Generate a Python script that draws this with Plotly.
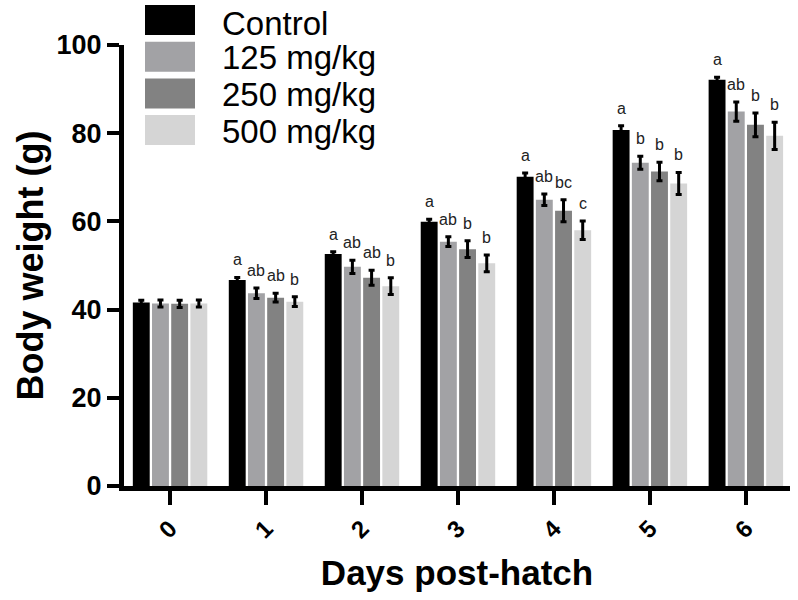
import plotly.graph_objects as go

days = ["0", "1", "2", "3", "4", "5", "6"]
series_names = ["Control", "125 mg/kg", "250 mg/kg", "500 mg/kg"]
colors = ["#000000", "#a2a2a5", "#828282", "#d5d5d5"]

control = [41.6, 46.7, 52.6, 59.9, 70.1, 80.7, 92.1]
mg125 = [41.4, 43.7, 49.7, 55.4, 64.9, 73.3, 84.9]
mg250 = [41.3, 42.7, 47.2, 53.7, 62.4, 71.3, 81.9]
mg500 = [41.4, 41.8, 45.3, 50.5, 58.0, 68.6, 79.4]

err_control = [0.5, 0.6, 0.5, 0.6, 0.9, 1.0, 0.6]
err125 = [0.8, 1.2, 1.5, 1.1, 1.3, 1.5, 2.2]
err250 = [0.8, 1.0, 1.7, 1.9, 2.5, 2.1, 2.7]
err500 = [0.8, 1.1, 1.9, 1.9, 2.1, 2.5, 3.1]

letters_control = ["", "a", "a", "a", "a", "a", "a"]
letters125 = ["", "ab", "ab", "ab", "ab", "b", "ab"]
letters250 = ["", "ab", "ab", "b", "bc", "b", "b"]
letters500 = ["", "b", "b", "b", "c", "b", "b"]

values = [control, mg125, mg250, mg500]
errors = [err_control, err125, err250, err500]
letters = [letters_control, letters125, letters250, letters500]

FONT = "Liberation Sans, Arial, Helvetica"

fig = go.Figure()
for i, name in enumerate(series_names):
    fig.add_trace(go.Bar(
        x=days, y=values[i], name=name,
        marker=dict(color=colors[i], line=dict(width=0)),
        error_y=dict(type="data", array=errors[i], color="#000000",
                     thickness=3, width=3),
        showlegend=False,
        offsetgroup=str(i),
    ))

# significance letters placed above error bars
n = len(series_names)
bargap, groupgap = 0.2, 0.12
group_w = 1 - bargap
for i in range(n):
    for j, d in enumerate(days):
        if not letters[i][j]:
            continue
        xoff = -group_w / 2 + group_w / n * (i + 0.5)
        fig.add_annotation(
            x=j + xoff, y=values[i][j] + errors[i][j],
            xref="x", yref="y", text=letters[i][j], showarrow=False,
            yanchor="bottom", yshift=7,
            font=dict(family=FONT, size=16, color="#222222"),
        )

# custom legend with large swatches (paper coords relative to plot area)
PX0, PX1, PY0, PY1 = 124, 790, 486, 45   # plot-area pixel edges
def px(xp):
    return (xp - PX0) / (PX1 - PX0)
def py(yp):
    return (PY0 - yp) / (PY0 - PY1)

leg_x0, leg_top, row_h, sw_w, sw_h = 145, 5, 36.7, 50, 30
for i, name in enumerate(series_names):
    y0 = leg_top + i * row_h
    fig.add_shape(type="rect", xref="paper", yref="paper",
                  x0=px(leg_x0), x1=px(leg_x0 + sw_w),
                  y0=py(y0 + sw_h), y1=py(y0),
                  fillcolor=colors[i], line=dict(width=0))
    fig.add_annotation(xref="paper", yref="paper",
                       x=px(leg_x0 + sw_w + 25),
                       y=py(y0 + sw_h / 2 + (3 if i == 0 else 1)),
                       xanchor="left", yanchor="middle",
                       text=name, showarrow=False,
                       font=dict(family=FONT, size=33, color="#000000"))

fig.update_layout(
    width=798, height=600,
    margin=dict(l=124, r=8, t=45, b=114),
    paper_bgcolor="white", plot_bgcolor="white",
    barmode="group", bargap=bargap, bargroupgap=groupgap,
    font=dict(family=FONT, color="#000000"),
)
fig.update_xaxes(
    type="category", range=[-0.48, 6.46],
    showline=True, linewidth=5, linecolor="#000000",
    ticks="outside", ticklen=14, tickwidth=4, tickcolor="#000000",
    tickangle=-45, showgrid=False, zeroline=False,
    tickfont=dict(family=FONT, size=24, color="#000000", weight="bold"),
    title=dict(text="<b>Days post-hatch</b>", standoff=20,
               font=dict(family=FONT, size=35, color="#000000")),
)
fig.update_yaxes(
    range=[0, 100], tickvals=[0, 20, 40, 60, 80, 100],
    showline=True, linewidth=5, linecolor="#000000",
    ticks="outside", ticklen=12, tickwidth=4, tickcolor="#000000",
    showgrid=False, zeroline=False,
    tickfont=dict(family=FONT, size=27, color="#000000", weight="bold"),
    title=dict(text="<b>Body weight (g)</b>", standoff=3,
               font=dict(family=FONT, size=36, color="#000000")),
)

fig.write_html("out.html", config={"displayModeBar": False},
               post_script="document.body.style.margin='0';")
